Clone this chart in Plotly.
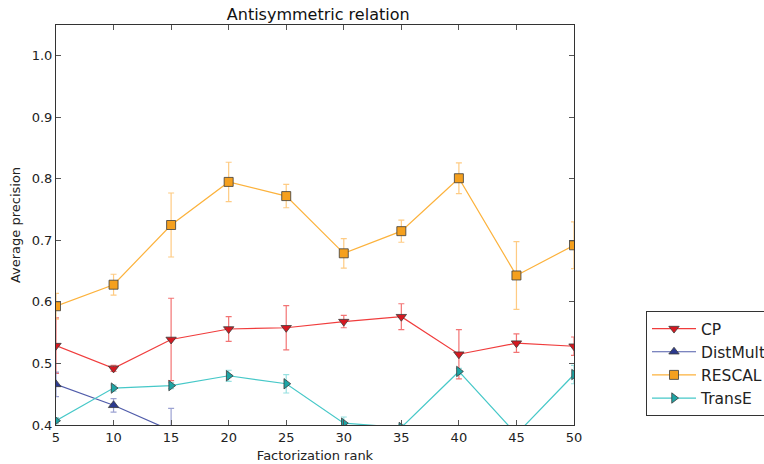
import plotly.graph_objects as go

ranks = [5, 10, 15, 20, 25, 30, 35, 40, 45, 50]

cp = [0.529, 0.492, 0.539, 0.556, 0.558, 0.568, 0.576, 0.515, 0.533, 0.528]
cp_err = [0.045, 0.005, 0.067, 0.020, 0.036, 0.010, 0.021, 0.040, 0.015, 0.015]

distmult = [0.466, 0.432, 0.391, 0.36, 0.34, 0.35, 0.33, 0.34, 0.35, 0.33]
distmult_err = [0.020, 0.011, 0.036, 0.01, 0.01, 0.01, 0.01, 0.01, 0.01, 0.01]

rescal = [0.593, 0.628, 0.725, 0.795, 0.772, 0.679, 0.715, 0.801, 0.643, 0.692]
rescal_err = [0.021, 0.017, 0.052, 0.032, 0.019, 0.024, 0.018, 0.025, 0.055, 0.038]

transe = [0.407, 0.460, 0.464, 0.480, 0.467, 0.403, 0.396, 0.487, 0.385, 0.482]
transe_err = [0.005, 0.005, 0.005, 0.009, 0.015, 0.010, 0.005, 0.005, 0.005, 0.015]

series = [
    ("CP", cp, cp_err, "triangle-down", "rgb(240,60,60)", "rgb(214,24,32)", "rgba(238,70,70,0.75)"),
    ("DistMult", distmult, distmult_err, "triangle-up", "rgb(80,92,170)", "rgb(44,58,143)", "rgba(90,100,180,0.6)"),
    ("RESCAL", rescal, rescal_err, "square", "rgb(252,178,60)", "rgb(245,160,30)", "rgba(253,185,90,0.75)"),
    ("TransE", transe, transe_err, "triangle-right", "rgb(70,200,200)", "rgb(30,165,165)", "rgba(80,205,205,0.6)"),
]

fig = go.Figure()
for name, ys, errs, sym, lc, mc, ec in series:
    fig.add_trace(go.Scatter(
        x=ranks, y=ys, name=name, mode="lines+markers",
        line=dict(color=lc, width=1.2),
        marker=dict(symbol=sym, size=9, color=mc,
                    line=dict(color="rgba(60,60,60,0.8)", width=1)),
        error_y=dict(type="data", array=errs, visible=True,
                     color=ec, thickness=1.2, width=3),
    ))

axis_common = dict(
    showgrid=False, zeroline=False, showline=True, linecolor="#333",
    linewidth=1, mirror="ticks", ticks="inside", ticklen=5,
    tickcolor="#555", tickfont=dict(family="DejaVu Sans", size=13, color="#222"),
)

fig.update_layout(
    width=764, height=464,
    margin=dict(l=56, r=190, t=25, b=39, autoexpand=False),
    paper_bgcolor="white", plot_bgcolor="white",
    title=dict(text="Antisymmetric relation", x=0.4165,
               xanchor="center", y=1 - 14 / 464, yanchor="middle",
               font=dict(family="DejaVu Sans", size=16, color="#111")),
    xaxis=dict(range=[5, 50], tickvals=ranks,
               title=dict(text="Factorization rank", standoff=7,
                          font=dict(family="DejaVu Sans", size=13, color="#222")),
               **axis_common),
    yaxis=dict(range=[0.4, 1.05], tickvals=[0.4, 0.5, 0.6, 0.7, 0.8, 0.9, 1.0],
               tickformat=".1f",
               title=dict(text="Average precision", standoff=8,
                          font=dict(family="DejaVu Sans", size=13, color="#222")),
               **axis_common),
    legend=dict(x=1.139, y=0.285, xanchor="left", yanchor="top",
                bgcolor="white", bordercolor="#333", borderwidth=1,
                itemwidth=44,
                font=dict(family="DejaVu Sans", size=15.5, color="#222")),
    showlegend=True,
)

fig.write_html("out.html")
